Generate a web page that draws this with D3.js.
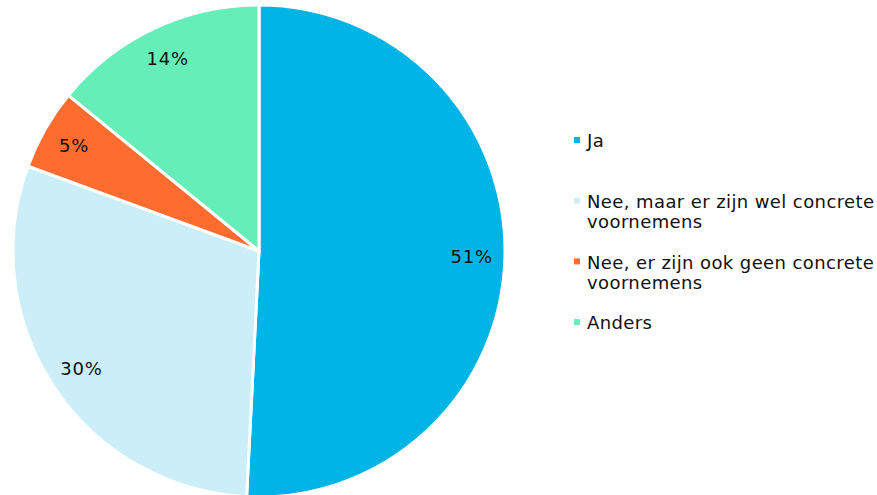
<!DOCTYPE html>
<html>
<head>
<meta charset="utf-8">
<script src="https://cdn.jsdelivr.net/npm/d3@7"></script>
<style>
  body { margin: 0; background: #fff; }
  svg { font-family: Verdana, "DejaVu Sans", sans-serif; }
</style>
</head>
<body>
<svg></svg>
<script>
let categories = ["Ja", "Nee, maar er zijn wel concrete voornemens", "Nee, er zijn ook geen concrete voornemens", "Anders"];
let legendLines = [["Ja"], ["Nee, maar er zijn wel concrete", "voornemens"], ["Nee, er zijn ook geen concrete", "voornemens"], ["Anders"]];
let values = [50.8, 29.8, 5.3, 14.1];
let colors = ["#00b4e6", "#cceef8", "#ff6c30", "#66eeb9"];

let width = 877;
let height = 495;
let cx = 259;
let cy = 251;
let radius = 246;

let svg = d3.select("svg")
    .attr("width", width)
    .attr("height", height);

let pie = d3.pie().sort(null).value((d) => d);
let arcs = pie(values);

let arc = d3.arc().innerRadius(0).outerRadius(radius);
let labelArc = d3.arc().innerRadius(radius * 0.865).outerRadius(radius * 0.865);

let g = svg.append("g")
    .attr("transform", "translate(" + cx + "," + cy + ")");

g.selectAll("path")
    .data(arcs)
    .enter()
    .append("path")
    .attr("d", arc)
    .attr("fill", (d, i) => colors[i])
    .attr("stroke", "#fff")
    .attr("stroke-width", 3)
    .attr("stroke-linejoin", "round");

g.selectAll("text.label")
    .data(arcs)
    .enter()
    .append("text")
    .attr("class", "label")
    .attr("transform", (d) => "translate(" + labelArc.centroid(d) + ")")
    .attr("text-anchor", "middle")
    .attr("dy", "0.35em")
    .attr("font-size", 18)
    .attr("letter-spacing", 0.8)
    .attr("fill", "#111")
    .text((d) => Math.round(d.data) + "%");

// legend
let legend = svg.append("g");
let item = legend.selectAll("g")
    .data(categories)
    .enter()
    .append("g")
    .attr("transform", (d, i) => "translate(574," + (141 + i * 60.7) + ")");

item.append("rect")
    .attr("x", 0)
    .attr("y", -4)
    .attr("width", 6)
    .attr("height", 6)
    .attr("fill", (d, i) => colors[i]);

item.append("text")
    .attr("x", 13)
    .attr("y", 0)
    .attr("font-size", 18)
    .attr("letter-spacing", 0.4)
    .attr("fill", "#111")
    .each(function(d, i) {
        let t = d3.select(this);
        legendLines[i].forEach((line, j) => {
            t.append("tspan")
                .attr("x", 13)
                .attr("dy", j == 0 ? "0.35em" : 20)
                .text(line);
        });
    });
</script>
</body>
</html>
